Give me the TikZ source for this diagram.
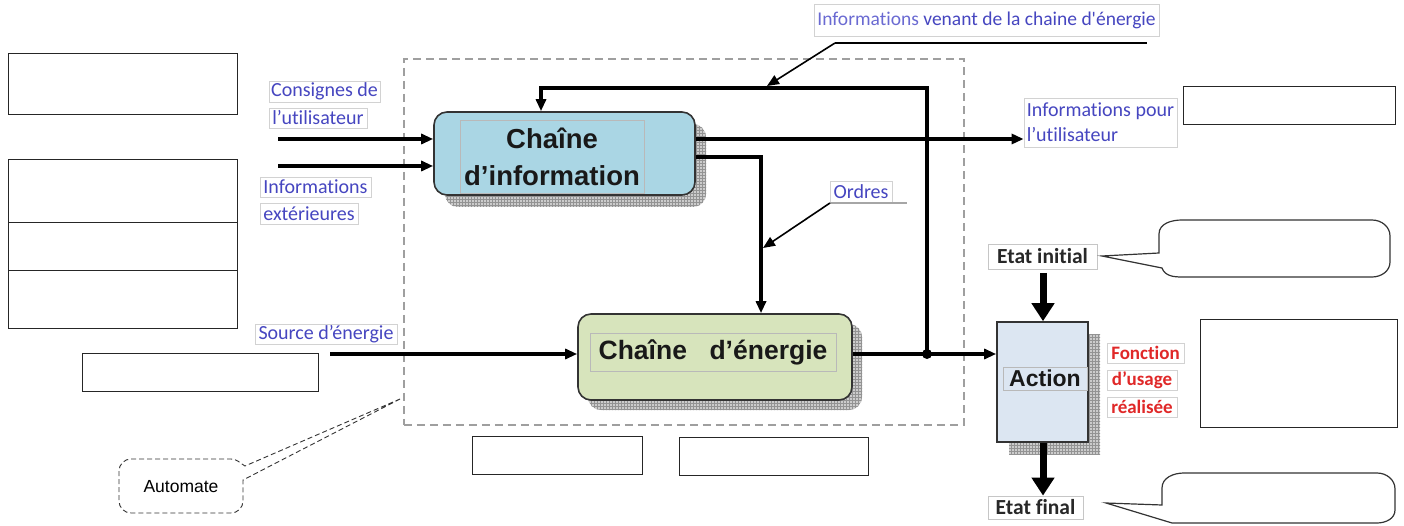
\documentclass[tikz,border=0pt]{standalone}
\usepackage{fontspec}
\setmainfont{Liberation Sans}
\newfontfamily\carlito[Ligatures=NoCommon]{Carlito}
\usetikzlibrary{arrows.meta,patterns}
\definecolor{ciblue}{HTML}{AAD6E4}
\definecolor{cegreen}{HTML}{D7E4BC}
\definecolor{actblue}{HTML}{DCE6F2}
\definecolor{lblue}{HTML}{4646C0}
\definecolor{lblueb}{HTML}{6A6AD2}
\definecolor{lred}{HTML}{E02828}
\definecolor{dtext}{HTML}{282828}
\begin{document}
\begin{tikzpicture}[x=1pt,y=-1pt,
  blank/.style={draw=black!85, line width=1.3pt, fill=white, inner sep=0pt, anchor=north west},
  lbl/.style={draw=gray!35, line width=0.8pt, fill=white, inner sep=0pt, text=lblue, font=\carlito\fontsize{20pt}{21pt}\selectfont},
  rlbl/.style={lbl, text=lred, font=\carlito\bfseries\fontsize{19pt}{20pt}\selectfont},
  elbl/.style={lbl, draw=gray!45, text=dtext, font=\carlito\bfseries\fontsize{21.5pt}{22pt}\selectfont},
  arr/.style={line width=3.1pt, -{Triangle[length=12pt,width=10pt]}},
  lead/.style={line width=1.6pt, -{Triangle[length=12pt,width=10pt]}},
  bigarr/.style={line width=7pt, -{Triangle[length=18pt,width=22pt]}},
  chain/.style={draw=black!80, line width=1.6pt, rounded corners=13pt, inner sep=0pt},
  innerbox/.style={draw=gray!55, line width=0.6pt, inner sep=0pt, text=black!90},
  shadowfill/.style={fill=gray!40, postaction={pattern=grid, pattern color=gray!85}},
  callout/.style={draw=black!80, line width=1.2pt, fill=white},
  autocall/.style={draw=black!80, line width=0.9pt, dash pattern=on 5pt off 3pt}
]
\useasboundingbox (0,0) rectangle (1404,526);

% blank boxes
\node[blank, minimum width=229pt, minimum height=61pt] (b1) at (8,53) {};
\node[blank, minimum width=229pt, minimum height=63pt] (b2) at (8,159) {};
\node[blank, minimum width=229pt, minimum height=48pt] (b3) at (8,222) {};
\node[blank, minimum width=229pt, minimum height=58pt] (b4) at (8,270) {};
\node[blank, minimum width=236pt, minimum height=38pt] (b5) at (82,353) {};
\node[blank, minimum width=212pt, minimum height=38pt] (b6) at (1183,86) {};
\node[blank, minimum width=197pt, minimum height=108pt] (b7) at (1200,319) {};
\node[blank, minimum width=170pt, minimum height=38pt] (b8) at (472,436) {};
\node[blank, minimum width=189pt, minimum height=38pt] (b9) at (679,437) {};

% dashed automate frame
\node[draw=gray!75, line width=1.6pt, dash pattern=on 8pt off 5pt, minimum width=560pt, minimum height=366pt, anchor=north west, inner sep=0pt] (auto) at (403,58) {};

% shadows
\path[shadowfill, rounded corners=13pt] (445,124) rectangle (706,207);
\path[shadowfill, rounded corners=13pt] (588,324) rectangle (862,410);
\path[shadowfill] (1009,334) rectangle (1100,454);

% main blocks
\node[chain, fill=ciblue, minimum width=261pt, minimum height=83pt] (ci) at (564.5,153.5) {};
\node[innerbox, minimum width=184pt, minimum height=73pt, align=center, font=\bfseries\fontsize{27.5pt}{37pt}\selectfont] (cit) at (552,156.5) {Chaîne\\d’information};
\node[chain, fill=cegreen, minimum width=274pt, minimum height=86pt] (ce) at (715,357) {};
\node[innerbox, minimum width=246pt, minimum height=38pt, font=\bfseries\fontsize{26.5pt}{28pt}\selectfont] (cet) at (713,352) {Chaîne\hspace{0.85em}d’énergie};
\node[draw=black!80, line width=1.6pt, fill=actblue, minimum width=91pt, minimum height=120pt, inner sep=0pt] (act) at (1042.5,382) {};
\node[innerbox, minimum width=84pt, minimum height=23pt, font=\bfseries\fontsize{23pt}{24pt}\selectfont] (actt) at (1045,378.5) {Action};

% labels
\node[lbl, minimum width=111pt, minimum height=21pt] (l1) at (324.5,91.5) {Consignes de};
\node[lbl, minimum width=98pt, minimum height=20pt] (l2) at (318,118) {l’utilisateur};
\node[lbl, minimum width=111pt, minimum height=20pt] (l3) at (315.5,187) {Informations};
\node[lbl, minimum width=98pt, minimum height=21pt] (l4) at (309,213.5) {extérieures};
\node[lbl, minimum width=142pt, minimum height=20pt] (l5) at (326,334) {Source d’énergie};
\node[lbl, minimum width=345pt, minimum height=32pt, font=\carlito\fontsize{19.5pt}{20pt}\selectfont] (lven) at (986.5,20) {\textcolor{lblueb}{Informations} venant de la chaine d'énergie};
\node[lbl, minimum width=153pt, minimum height=49pt, align=left, font=\carlito\fontsize{20pt}{25pt}\selectfont] (lpour) at (1100.5,122.5) {Informations pour\\l’utilisateur};
\node[lbl, minimum width=62pt, minimum height=21pt] (lord) at (861,191.5) {Ordres};
\node[elbl, minimum width=109pt, minimum height=25pt] (ei) at (1042.5,256.5) {Etat initial};
\node[elbl, minimum width=95pt, minimum height=23pt] (ef) at (1035.5,507.5) {Etat final};
\node[rlbl, minimum width=77pt, minimum height=20pt] (r1) at (1145.5,353) {Fonction};
\node[rlbl, minimum width=70pt, minimum height=20pt] (r2) at (1142,380) {d’usage};
\node[rlbl, minimum width=70pt, minimum height=20pt] (r3) at (1142,407) {réalisée};

% coordinates
\coordinate (in1) at (278,139);
\coordinate (in2) at (278,166);
\coordinate (src) at (330,354);
\coordinate (dot) at (927,354);
\coordinate (fbtop) at (927,88);
\coordinate (fbl) at (541,88);
\coordinate (ordc) at (761,157);
\coordinate (venu) at (835,43);
\coordinate (venr) at (1147,43);
\coordinate (vent) at (767,86);
\coordinate (ordu) at (830,203);
\coordinate (ordr) at (907,203);
\coordinate (ordt) at (763,248);
\coordinate (eitop) at (1043,273);

% connectors
\draw[arr] (in1) -- (ci.west |- in1);
\draw[arr] (in2) -- (ci.west |- in2);
\draw[arr] (src) -- (ce.west |- src);
\draw[arr] (ci.east |- in1) -- (lpour.west |- in1);
\draw[arr] (ci.east |- ordc) -- (ordc) -- (ordc |- ce.north);
\draw[arr] (ce.east |- dot) -- (act.west |- dot);
\draw[arr] (dot) -- (fbtop) -- (fbl) -- (fbl |- ci.north);
\fill (dot) circle (5pt);
\draw[line width=2.4pt] (venu) -- (venr);
\draw[lead] (venu) -- (vent);
\draw[line width=1.6pt, gray!70] (ordu) -- (ordr);
\draw[lead] (ordu) -- (ordt);
\draw[bigarr] (eitop) -- (eitop |- act.north);
\draw[bigarr] (eitop |- act.south) -- (eitop |- ef.north);

% callouts
\draw[callout] (1159,253) -- (1102,256) -- (1162,268) to[out=-70,in=180] (1182,277) -- (1372,277) to[out=0,in=-90] (1390,262) -- (1390,236) to[out=90,in=0] (1372,220) -- (1182,220) to[out=180,in=90] (1159,234) -- cycle;
\draw[callout] (1162,505) -- (1106,503) -- (1172,523) -- (1377,523) to[out=0,in=-90] (1395,510) -- (1395,489) to[out=90,in=0] (1377,473) -- (1184,473) to[out=180,in=90] (1162,488) -- cycle;
\draw[autocall] (400,399) -- (243,480) -- (243,501) to[out=-90,in=0] (231,513) -- (131,513) to[out=180,in=-90] (119,501) -- (119,471) to[out=90,in=180] (131,459) -- (231,459) to[out=0,in=150] (245,466) -- cycle;
\node[font=\fontsize{17.5pt}{19pt}\selectfont, inner sep=0pt] (autot) at (181,487) {Automate};
\end{tikzpicture}
\end{document}
